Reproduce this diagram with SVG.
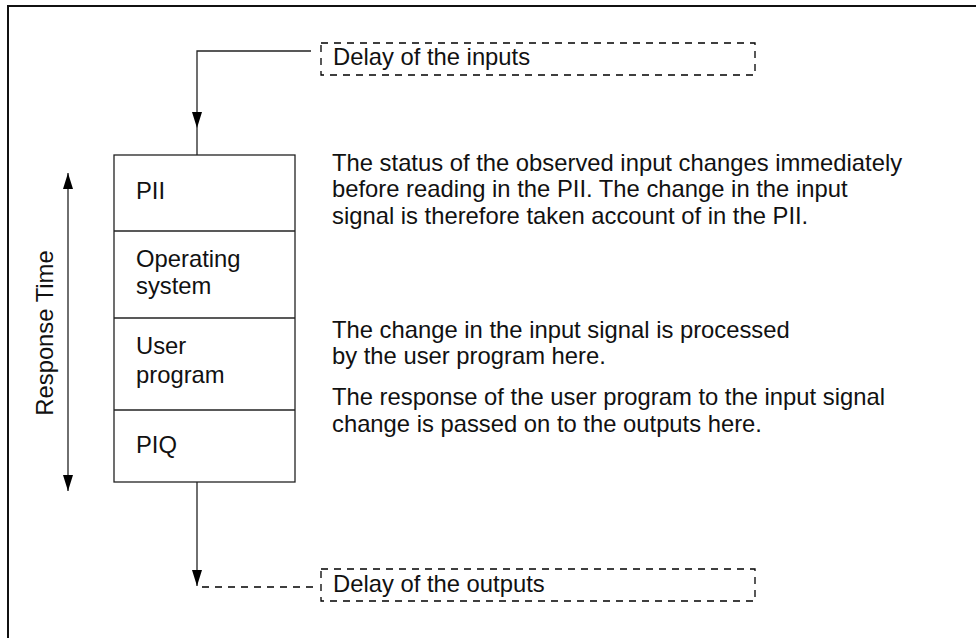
<svg xmlns="http://www.w3.org/2000/svg" width="976" height="638" viewBox="0 0 976 638">
<style>
  text { font-family: "Liberation Sans", Arial, sans-serif; font-size: 23.8px; fill: #111; }
  .ln { fill: none; stroke: #222; stroke-width: 1.3; }
  .dash { fill: none; stroke: #000; stroke-width: 1.3; stroke-dasharray: 7 6; }
  .frame { fill: none; stroke: #111; stroke-width: 2; }
</style>
<defs>
  <marker id="ah" viewBox="0 0 16 10" refX="16" refY="5" markerWidth="16" markerHeight="10" markerUnits="userSpaceOnUse" orient="auto-start-reverse">
    <path d="M0,0 L16,5 L0,10 z" fill="#000"/>
  </marker>
</defs>
<rect width="976" height="638" fill="#fff"/>
<path class="frame" d="M8,638 V6 H976"/>

<g id="cycle">
  <rect class="ln" x="114" y="155" width="181" height="327" fill="#fff"/>
  <line class="ln" x1="114" y1="231" x2="295" y2="231"/>
  <line class="ln" x1="114" y1="318" x2="295" y2="318"/>
  <line class="ln" x1="114" y1="410" x2="295" y2="410"/>
</g>
<g id="pii"><text x="136" y="199">PII</text></g>
<g id="os"><text x="136" y="267">Operating</text><text x="136" y="294">system</text></g>
<g id="up"><text x="136" y="354">User</text><text x="136" y="383">program</text></g>
<g id="piq"><text x="136" y="453">PIQ</text></g>

<g id="delay-in">
  <rect class="dash" x="321" y="43" width="434" height="32"/>
  <text x="333" y="65">Delay of the inputs</text>
</g>
<g id="delay-out">
  <rect class="dash" x="321" y="569" width="434" height="32"/>
  <text x="333" y="592">Delay of the outputs</text>
</g>

<g id="response">
  <text transform="translate(53,333) rotate(-90)" text-anchor="middle">Response Time</text>
</g>

<g id="notes">
  <text x="332" y="171">The status of the observed input changes immediately</text>
  <text x="332" y="197">before reading in the PII. The change in the input</text>
  <text x="332" y="224">signal is therefore taken account of in the PII.</text>
  <text x="332" y="338">The change in the input signal is processed</text>
  <text x="332" y="364">by the user program here.</text>
  <text x="332" y="405">The response of the user program to the input signal</text>
  <text x="332" y="432">change is passed on to the outputs here.</text>
</g>

<g id="connectors">
  <path class="ln" d="M311,51 H197 V128" marker-end="url(#ah)"/>
  <line class="ln" x1="197" y1="128" x2="197" y2="155"/>
  <path class="ln" d="M197,482 V586" marker-end="url(#ah)"/>
  <line class="dash" x1="202" y1="587" x2="316" y2="587"/>
  <line class="ln" x1="68" y1="173" x2="68" y2="491" marker-start="url(#ah)" marker-end="url(#ah)"/>
</g>
</svg>
